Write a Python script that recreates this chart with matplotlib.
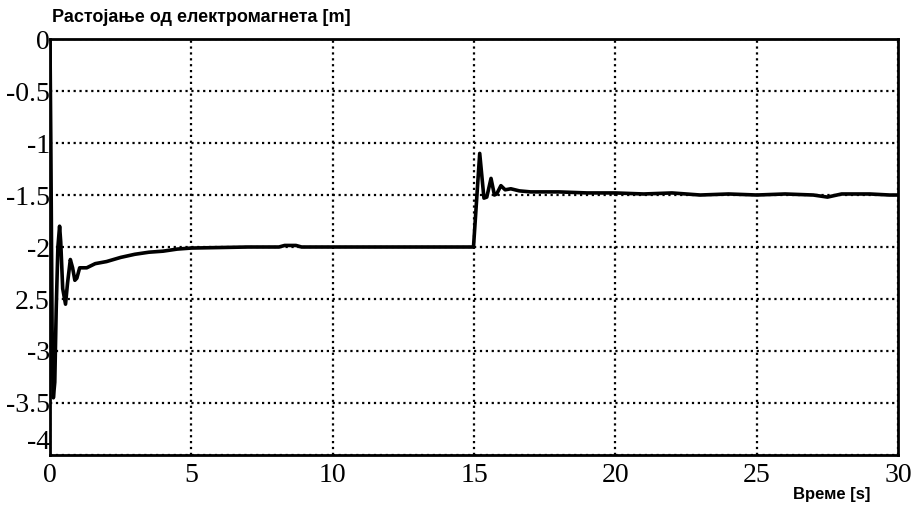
import matplotlib
matplotlib.use('Agg')
import matplotlib.pyplot as plt

# Distance from electromagnet vs time
time_s = [0, 0.03, 0.08, 0.12, 0.17, 0.22, 0.28, 0.34, 0.38, 0.45, 0.55, 0.62,
          0.72, 0.80, 0.88, 0.95, 1.05, 1.3, 1.6, 2.0, 2.5, 3.0, 3.5, 4.0, 4.5,
          5.0, 6.0, 7.0, 8.1, 8.3, 8.7, 8.9, 10, 12, 14, 14.98, 15.2, 15.35,
          15.45, 15.6, 15.72, 15.8, 15.95, 16.1, 16.3, 16.6, 17, 18, 19, 20,
          21, 22, 23, 24, 25, 26, 27, 27.5, 28, 29, 29.7, 30]
distance_m = [0, -1.0, -3.0, -3.45, -3.3, -2.6, -2.0, -1.8, -1.95, -2.4, -2.55, -2.35,
              -2.12, -2.2, -2.32, -2.3, -2.2, -2.2, -2.16, -2.14, -2.1, -2.07, -2.05, -2.04, -2.02,
              -2.01, -2.005, -2.0, -2.0, -1.985, -1.985, -2.0, -2.0, -2.0, -2.0, -2.0, -1.10, -1.53,
              -1.52, -1.34, -1.5, -1.49, -1.41, -1.45, -1.44, -1.46, -1.47, -1.47, -1.48, -1.48,
              -1.49, -1.48, -1.5, -1.49, -1.5, -1.49, -1.5, -1.52, -1.49, -1.49, -1.5, -1.5]

x_ticks = [0, 5, 10, 15, 20, 25, 30]
y_ticks = [0, -0.5, -1, -1.5, -2, -2.5, -3, -3.5, -4]
y_tick_labels = ['0', '-0.5', '-1', '-1.5', '-2', '2.5', '-3', '-3.5', '-4']

fig = plt.figure(figsize=(9.12, 5.07), dpi=100)
ax = fig.add_axes([0.0548, 0.1026, 0.93, 0.8204])

ax.plot(time_s, distance_m, color='black', linewidth=2.6)

ax.set_xlim(0, 30)
ax.set_ylim(-4, 0)
ax.set_xticks(x_ticks)
ax.set_yticks(y_ticks)
ax.set_yticklabels(y_tick_labels)

for lbl in ax.get_xticklabels() + ax.get_yticklabels():
    lbl.set_fontfamily('Liberation Serif')
    lbl.set_fontsize(20)
# bottom label sits just above the x axis, as in the scan
ax.get_yticklabels()[-1].set_verticalalignment('bottom')
ax.tick_params(axis='both', length=0)
ax.tick_params(axis='y', pad=0)
ax.tick_params(axis='x', pad=6)

ax.grid(True, color='black', linestyle=':', linewidth=1.6)
for s in ax.spines.values():
    s.set_linewidth(2)

fig.text(0.057, 0.965, 'Растојање од електромагнета [m]', fontsize=13,
         family='Liberation Sans', fontweight='bold', ha='left', va='center')
fig.text(0.954, 0.025, 'Време [s]', fontsize=12,
         family='Liberation Sans', fontweight='bold', ha='right', va='center')

fig.savefig('out.png', dpi=100)
